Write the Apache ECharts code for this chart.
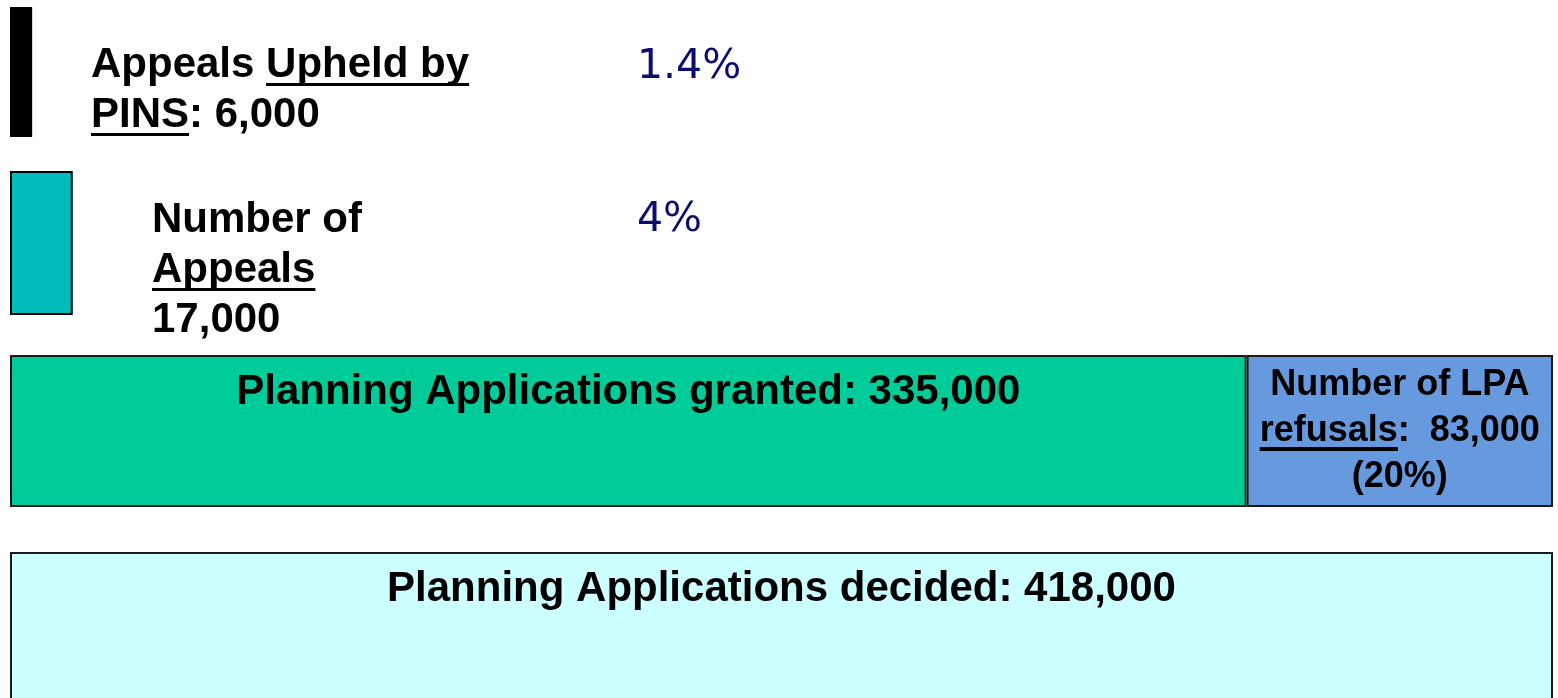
<!DOCTYPE html>
<html>
<head>
<meta charset="utf-8">
<script src="https://cdn.jsdelivr.net/npm/echarts@6/dist/echarts.min.js"></script>
<style>
  html, body { margin: 0; padding: 0; background: #fff; }
  #main { width: 1558px; height: 698px; }
</style>
</head>
<body>
<div id="main"></div>
<script>
// data
var upheldValues = [6000];
var appealValues = [17000];
var grantedValues = [335000];
var refusalValues = [83000];
var decidedValues = [418000];
var totalMax = 418000;
var percentLabels = ["1.4%", "4%"];
var refusalShare = "(20%)";

var FONT = "Arial, 'Liberation Sans', sans-serif";
var c = echarts.format.addCommas;

// underline done with a hard-stop gradient behind the text fragment
var underline = {
  type: "linear", x: 0, y: 0, x2: 0, y2: 1,
  colorStops: [
    { offset: 0, color: "rgba(0,0,0,0)" },
    { offset: 0.855, color: "rgba(0,0,0,0)" },
    { offset: 0.855, color: "#000" },
    { offset: 0.925, color: "#000" },
    { offset: 0.925, color: "rgba(0,0,0,0)" },
    { offset: 1, color: "rgba(0,0,0,0)" }
  ]
};
function richSet(size, lh) {
  return {
    t: { fontSize: size, fontWeight: "bold", fontFamily: FONT, color: "#000", lineHeight: lh, height: lh },
    u: { fontSize: size, fontWeight: "bold", fontFamily: FONT, color: "#000", lineHeight: lh, height: lh, backgroundColor: underline }
  };
}

var myChart = echarts.init(document.getElementById("main"));

var grids = [
  { left: 10, width: 1543, top: 7, height: 130 },
  { left: 10, width: 1543, top: 171, height: 144 },
  { left: 10, width: 1543, top: 355, height: 152 },
  { left: 10, width: 1543, top: 552, height: 170 }
];
var xAxes = [], yAxes = [];
grids.forEach(function(g, i) {
  g.outerBoundsMode = "none";
  g.containLabel = false;
  xAxes.push({ type: "value", gridIndex: i, min: 0, max: totalMax, show: false });
  yAxes.push({ type: "category", gridIndex: i, data: ["r" + i], show: false });
});

var pctStyle = { fontFamily: "'DejaVu Sans', Verdana, sans-serif", fontSize: 41, fontWeight: "normal", color: "#0c0c70", lineHeight: 48 };

var option = {
  backgroundColor: "#fff",
  animation: false,
  title: [
    { text: percentLabels[0], left: 637, top: 43, padding: 0, textStyle: pctStyle },
    { text: percentLabels[1], left: 637, top: 196, padding: 0, textStyle: pctStyle }
  ],
  grid: grids,
  xAxis: xAxes,
  yAxis: yAxes,
  series: [
    {
      name: "Appeals Upheld by PINS",
      type: "bar", xAxisIndex: 0, yAxisIndex: 0, barWidth: "100%", silent: true,
      itemStyle: { color: "#000" },
      label: {
        show: true, position: [81, 33], align: "left", verticalAlign: "top",
        formatter: function(p) { return "{t|Appeals }{u|Upheld by}\n{u|PINS}{t|: " + c(p.value) + "}"; },
        rich: richSet(42, 50)
      },
      data: upheldValues
    },
    {
      name: "Number of Appeals",
      type: "bar", xAxisIndex: 1, yAxisIndex: 1, barWidth: "100%", silent: true,
      itemStyle: { color: "#00bdbb", borderColor: "#000", borderWidth: 2 },
      label: {
        show: true, position: [142, 24], align: "left", verticalAlign: "top",
        formatter: function(p) { return "{t|Number of}\n{u|Appeals}\n{t|" + c(p.value) + "}"; },
        rich: richSet(42, 50)
      },
      data: appealValues
    },
    {
      name: "Planning Applications granted",
      type: "bar", xAxisIndex: 2, yAxisIndex: 2, barWidth: "100%", stack: "apps", silent: true,
      itemStyle: { color: "#00cc99", borderColor: "#1a1a1a", borderWidth: 2 },
      label: {
        show: true, position: "insideTop", distance: 12,
        formatter: function(p) { return "{t|Planning Applications granted: " + c(p.value) + "}"; },
        rich: richSet(42, 50)
      },
      data: grantedValues
    },
    {
      name: "Number of LPA refusals",
      type: "bar", xAxisIndex: 2, yAxisIndex: 2, barWidth: "100%", stack: "apps", silent: true,
      itemStyle: { color: "#6699dd", borderColor: "#1a1a1a", borderWidth: 2 },
      label: {
        show: true, position: "inside", align: "center",
        formatter: function(p) { return "{t|Number of LPA}\n{u|refusals}{t|:  " + c(p.value) + "}\n{t|" + refusalShare + "}"; },
        rich: richSet(36, 46)
      },
      data: refusalValues
    },
    {
      name: "Planning Applications decided",
      type: "bar", xAxisIndex: 3, yAxisIndex: 3, barWidth: "100%", silent: true,
      itemStyle: { color: "#ccffff", borderColor: "#1a1a1a", borderWidth: 2 },
      label: {
        show: true, position: "insideTop", distance: 12,
        formatter: function(p) { return "{t|Planning Applications decided: " + c(p.value) + "}"; },
        rich: richSet(42, 50)
      },
      data: decidedValues
    }
  ]
};
myChart.setOption(option);
window.addEventListener("resize", function() {
  myChart.resize();
});
</script>
</body>
</html>
